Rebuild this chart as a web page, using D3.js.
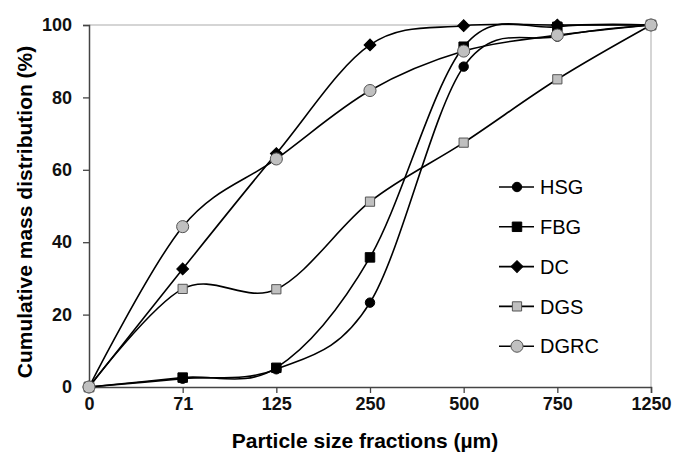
<!DOCTYPE html>
<html>
<head>
<meta charset="utf-8">
<script src="https://cdn.jsdelivr.net/npm/d3@7"></script>
<style>
  body { margin: 0; background: #fff; }
  text { font-family: Arial, "Liberation Sans", sans-serif; }
</style>
</head>
<body>
<div id="container"></div>
<script>
/* CONSTANTS AND GLOBALS */
const margin = {top: 25, right: 22, bottom: 66, left: 89}
const width = 673 - margin.left - margin.right
const height = 453 - margin.top - margin.bottom

/* DATA */
const sizes = ["0", "71", "125", "250", "500", "750", "1250"]
const yTicks = [0, 20, 40, 60, 80, 100]
const seriesNames = ["HSG", "FBG", "DC", "DGS", "DGRC"]
const hsg  = [0, 2.3, 4.9, 23.3, 88.5, 96.8, 100]
const fbg  = [0, 2.6, 5.3, 35.8, 94.0, 99.5, 100]
const dc   = [0, 32.6, 64.5, 94.5, 99.8, 100, 100]
const dgs  = [0, 27.1, 27.0, 51.2, 67.5, 85.0, 100]
const dgrc = [0, 44.3, 63.0, 81.9, 92.8, 97.2, 100]

// marker look per series (rot = 45 turns the square into a diamond)
const series = [
  {name: seriesNames[0], values: hsg, symbol: d3.symbolCircle, area: 70, rot: 0, fill: "#000"},
  {name: seriesNames[1], values: fbg, symbol: d3.symbolSquare, area: 90, rot: 0, fill: "#000"},
  {name: seriesNames[2], values: dc, symbol: d3.symbolSquare, area: 70, rot: 45, fill: "#000"},
  {name: seriesNames[3], values: dgs, symbol: d3.symbolSquare, area: 85, rot: 0, fill: "#c0c0c0"},
  {name: seriesNames[4], values: dgrc, symbol: d3.symbolCircle, area: 115, rot: 0, fill: "#c0c0c0"}
]

// CREATE SVG ELEMENT
const svg = d3.select("#container")
  .append("svg")
    .attr("width", width + margin.left + margin.right)
    .attr("height", height + margin.top + margin.bottom)
  .append("g")
    .attr("transform", "translate(" + margin.left + "," + margin.top + ")")

// SCALES
const xScale = d3.scalePoint()
  .domain(sizes)
  .range([0, width])

const yScale = d3.scaleLinear()
  .domain([0, 100])
  .range([height, 0])

// plot frame (top and right, light grey)
svg.append("path")
  .attr("d", "M0,0H" + width + "V" + height)
  .attr("fill", "none")
  .attr("stroke", "#c8c8c8")
  .attr("stroke-width", 1.5)

// AXES
const xAxis = svg.append("g")
  .attr("transform", "translate(0," + height + ")")
  .call(d3.axisBottom(xScale).tickSizeOuter(0).tickSize(6).tickPadding(4))
const yAxis = svg.append("g")
  .call(d3.axisLeft(yScale).tickValues(yTicks).tickSizeOuter(0).tickSize(6).tickPadding(11))

;[xAxis, yAxis].forEach(ax => {
  ax.select(".domain").attr("stroke", "#444").attr("stroke-width", 1.5)
  ax.selectAll(".tick line").attr("stroke", "#444").attr("stroke-width", 1.3)
  ax.selectAll(".tick text")
    .attr("fill", "#111")
    .style("font-size", "18px")
    .style("font-weight", "bold")
    .style("font-family", "Arial, 'Liberation Sans', sans-serif")
})

// LINES
const line = d3.line()
  .x((d, i) => xScale(sizes[i]))
  .y(d => yScale(d))
  .curve(d3.curveCatmullRom.alpha(0))

svg.selectAll(".series-line")
  .data(series)
  .join("path")
    .attr("class", "series-line")
    .attr("fill", "none")
    .attr("stroke", "#000")
    .attr("stroke-width", 1.6)
    .attr("d", d => line(d.values))

// MARKERS
series.forEach(s => {
  svg.selectAll(null)
    .data(s.values)
    .join("path")
      .attr("transform", (d, i) => "translate(" + xScale(sizes[i]) + "," + yScale(d) + ") rotate(" + s.rot + ")")
      .attr("d", d3.symbol().type(s.symbol).size(s.area))
      .attr("fill", s.fill)
      .attr("stroke", s.fill === "#000" ? "#000" : "#555")
      .attr("stroke-width", 1)
})

// LEGEND
const legend = svg.append("g")
  .attr("transform", "translate(" + (499 - margin.left) + "," + (187 - margin.top) + ")")

const rows = legend.selectAll("g")
  .data(series)
  .join("g")
    .attr("transform", (d, i) => "translate(0," + i * 39.8 + ")")

rows.append("line")
  .attr("x1", 0).attr("x2", 35)
  .attr("stroke", "#000")
  .attr("stroke-width", 1.6)
rows.append("path")
  .attr("transform", d => "translate(18,0) rotate(" + d.rot + ")")
  .attr("d", d => d3.symbol().type(d.symbol).size(d.area)())
  .attr("fill", d => d.fill)
  .attr("stroke", d => d.fill === "#000" ? "#000" : "#555")
rows.append("text")
  .attr("x", 41)
  .attr("dy", "0.36em")
  .style("font-size", "20px")
  .text(d => d.name)

// TITLES
svg.append("text")
  .attr("x", 365 - margin.left)
  .attr("y", 448 - margin.top)
  .attr("text-anchor", "middle")
  .style("font-size", "21px")
  .style("font-weight", "bold")
  .text("Particle size fractions (\u00b5m)")

svg.append("text")
  .attr("transform", "rotate(-90)")
  .attr("x", -(212 - margin.top))
  .attr("y", 32 - margin.left)
  .attr("text-anchor", "middle")
  .style("font-size", "21px")
  .style("font-weight", "bold")
  .text("Cumulative mass distribution (%)")
</script>
</body>
</html>
